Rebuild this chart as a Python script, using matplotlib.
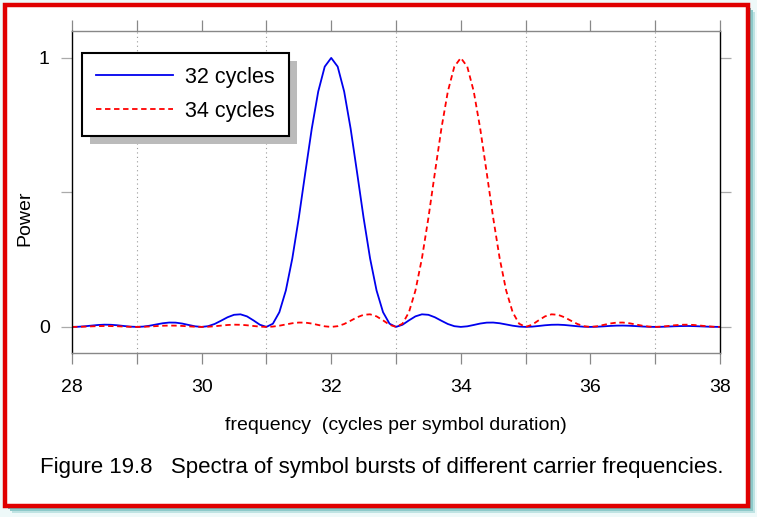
import numpy as np
import matplotlib
matplotlib.use('Agg')
import matplotlib.pyplot as plt
from matplotlib.patches import Rectangle

# frequency samples (cycles per symbol duration), 0.1 apart
freq = np.linspace(28, 38, 101)

power_32 = [
    0.0, 0.0006, 0.0024, 0.0048, 0.0071, 0.0083, 0.0079, 0.0061, 0.0034, 0.0010,
    0.0, 0.0012, 0.0045, 0.0091, 0.0136, 0.0162, 0.0159, 0.0125, 0.0072, 0.0022,
    0.0, 0.0027, 0.0108, 0.0230, 0.0358, 0.0450, 0.0468, 0.0392, 0.0243, 0.0080,
    0.0, 0.0119, 0.0547, 0.1353, 0.2546, 0.4053, 0.5728, 0.7368, 0.8751, 0.9675,
    1.0,
    0.9675, 0.8751, 0.7368, 0.5728, 0.4053, 0.2546, 0.1353, 0.0547, 0.0119, 0.0,
    0.0080, 0.0243, 0.0392, 0.0468, 0.0450, 0.0358, 0.0230, 0.0108, 0.0027, 0.0,
    0.0022, 0.0072, 0.0125, 0.0159, 0.0162, 0.0136, 0.0091, 0.0045, 0.0012, 0.0,
    0.0010, 0.0034, 0.0061, 0.0079, 0.0083, 0.0071, 0.0048, 0.0024, 0.0006, 0.0,
    0.0006, 0.0020, 0.0036, 0.0047, 0.0050, 0.0043, 0.0030, 0.0015, 0.0004, 0.0,
    0.0004, 0.0013, 0.0024, 0.0031, 0.0034, 0.0029, 0.0020, 0.0010, 0.0003, 0.0,
]

power_34 = [
    0.0, 0.0003, 0.0010, 0.0020, 0.0029, 0.0034, 0.0031, 0.0024, 0.0013, 0.0004,
    0.0, 0.0004, 0.0015, 0.0030, 0.0043, 0.0050, 0.0047, 0.0036, 0.0020, 0.0006,
    0.0, 0.0006, 0.0024, 0.0048, 0.0071, 0.0083, 0.0079, 0.0061, 0.0034, 0.0010,
    0.0, 0.0012, 0.0045, 0.0091, 0.0136, 0.0162, 0.0159, 0.0125, 0.0072, 0.0022,
    0.0, 0.0027, 0.0108, 0.0230, 0.0358, 0.0450, 0.0468, 0.0392, 0.0243, 0.0080,
    0.0, 0.0119, 0.0547, 0.1353, 0.2546, 0.4053, 0.5728, 0.7368, 0.8751, 0.9675,
    1.0,
    0.9675, 0.8751, 0.7368, 0.5728, 0.4053, 0.2546, 0.1353, 0.0547, 0.0119, 0.0,
    0.0080, 0.0243, 0.0392, 0.0468, 0.0450, 0.0358, 0.0230, 0.0108, 0.0027, 0.0,
    0.0022, 0.0072, 0.0125, 0.0159, 0.0162, 0.0136, 0.0091, 0.0045, 0.0012, 0.0,
    0.0010, 0.0034, 0.0061, 0.0079, 0.0083, 0.0071, 0.0048, 0.0024, 0.0006, 0.0,
]

series_labels = ['32 cycles', '34 cycles']
x_major = [28, 30, 32, 34, 36, 38]
x_ticks = list(range(28, 39))
x_grid = [29, 31, 33, 35, 37]
caption = 'Figure 19.8   Spectra of symbol bursts of different carrier frequencies.'

plt.rcParams['font.family'] = ['Liberation Sans', 'DejaVu Sans']

W, H = 757, 517
fig = plt.figure(figsize=(W / 100, H / 100), dpi=100)
fig.patch.set_facecolor('#eef9f9')

def px(x0, y0, w, h):
    # pixel box (top-left origin) -> figure fraction
    return (x0 / W, 1 - (y0 + h) / H, w / W, h / H)

# frame: cyan shadow, white page, red border
for off, col in [(7, '#bfe3e3'), (5, '#8cc9c9'), (3, '#6fb8b8')]:
    x0, y0, w, h = px(5 + off, 5 + off, 743, 501)
    fig.patches.append(Rectangle((x0, y0), w, h, transform=fig.transFigure,
                                 facecolor=col, edgecolor='none', zorder=-3))
x0, y0, w, h = px(5, 5, 743, 501)
fig.patches.append(Rectangle((x0, y0), w, h, transform=fig.transFigure,
                             facecolor='white', edgecolor='#e00000', linewidth=3.2, zorder=-2))

ax = fig.add_axes(px(72, 31, 648, 322))
ax.set_zorder(1)
ax.set_facecolor('white')

l1, = ax.plot(freq, power_32, color='#0000ee', linewidth=1.3, label=series_labels[0])
l2, = ax.plot(freq, power_34, color='#ff0000', linewidth=1.3, linestyle=(0, (3, 2)),
              label=series_labels[1])

ax.set_xlim(28, 38)
ax.set_ylim(-0.097, 1.1)

for g in x_grid:
    ax.axvline(g, color='#999999', linestyle=(0, (1, 3)), linewidth=0.8, zorder=0)

ax.set_xticks(x_ticks)
ax.set_xticklabels([str(t) if t in x_major else '' for t in x_ticks])
ax.set_yticks([0, 0.5, 1])
ax.set_yticklabels(['0', '', '1'])
ax.tick_params(axis='x', direction='out', length=8, width=0.9, color='#888888',
               top=True, labelsize=14, pad=11)
ax.tick_params(axis='y', direction='out', length=8, width=0.9, color='#aaaaaa',
               right=True, labelsize=14, pad=8)

for s in ['left', 'right']:
    ax.spines[s].set_color('black')
    ax.spines[s].set_linewidth(1.0)
for s in ['top', 'bottom']:
    ax.spines[s].set_color('#888888')
    ax.spines[s].set_linewidth(1.0)

ax.set_xlabel('frequency  (cycles per symbol duration)', fontsize=14, labelpad=15)
ax.set_ylabel('Power', fontsize=14)
ax.yaxis.set_label_coords(-0.059, 0.42)

# legend with a grey drop shadow
leg = ax.legend(handles=[l1, l2], loc='upper left', bbox_to_anchor=(10 / 648, 1 - 22 / 322),
                fontsize=15.5, frameon=True, fancybox=False, shadow=False, framealpha=1,
                handlelength=3.6, handletextpad=0.55, borderpad=0.65, labelspacing=0.6,
                borderaxespad=0)
leg.get_frame().set_edgecolor('black')
leg.get_frame().set_facecolor('white')
leg.get_frame().set_linewidth(1.5)
leg.set_zorder(6)
fig.canvas.draw()
bb = leg.get_window_extent().transformed(ax.transAxes.inverted())
ax.add_patch(Rectangle((bb.x0 + 8 / 648, bb.y0 - 8 / 322), bb.width, bb.height,
                       transform=ax.transAxes, facecolor='#bbbbbb', edgecolor='none',
                       zorder=5, clip_on=False))

fig.text(40 / W, 1 - 467 / H, caption, fontsize=16, va='center', ha='left')

fig.savefig('out.png', dpi=100, facecolor=fig.get_facecolor())
